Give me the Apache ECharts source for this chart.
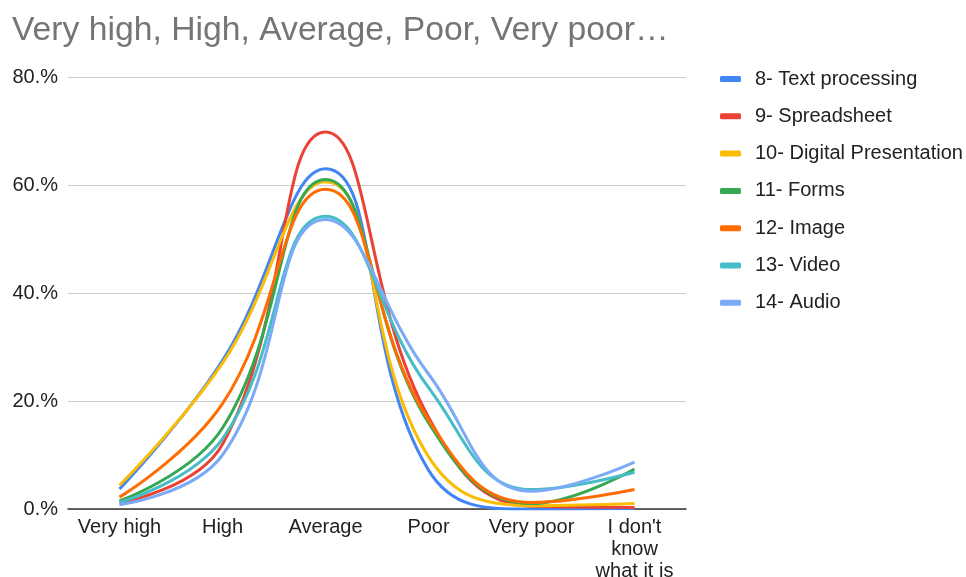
<!DOCTYPE html>
<html>
<head>
<meta charset="utf-8">
<style>
  html, body { margin: 0; padding: 0; background: #ffffff; }
  #chart { width: 966px; height: 577px; }
</style>
<script src="https://cdn.jsdelivr.net/npm/echarts@6/dist/echarts.min.js"></script>
</head>
<body>
<div id="chart"></div>
<script>
// Rating categories along the x axis
const categories = ['Very high', 'High', 'Average', 'Poor', 'Very poor', "I don't\nknow\nwhat it is"];

// Share of answers (%) per skill
const textProcessing = [3.7, 27.5, 63.0, 7.2, 0.0, 0.1];
const spreadsheet    = [1.1, 12.0, 69.8, 17.0, 0.5, 0.3];
const presentation   = [4.4, 27.0, 60.6, 9.7, 0.6, 1.0];
const forms          = [1.5, 15.0, 61.0, 16.0, 1.0, 7.4];
const image          = [2.2, 19.5, 59.2, 16.5, 1.2, 3.6];
const video          = [1.2, 13.0, 54.2, 22.5, 3.6, 6.8];
const audio          = [0.8, 10.0, 53.6, 25.0, 3.3, 8.7];

const seriesNames = [
  '8- Text processing', '9- Spreadsheet', '10- Digital Presentation',
  '11- Forms', '12- Image', '13- Video', '14- Audio'
];
const seriesData = [textProcessing, spreadsheet, presentation, forms, image, video, audio];
const colors = ['#4285F4', '#EA4335', '#FBBC04', '#34A853', '#FF6D01', '#46BDC6', '#7BAAF7'];

// Y axis runs 0–80 in steps of 20, labelled like "20.%"
const yTicks = [0, 20, 40, 60, 80];

const font = '"Liberation Sans", Arial, sans-serif';

const chart = echarts.init(document.getElementById('chart'));
chart.setOption({
  animation: false,
  color: colors,
  textStyle: { fontFamily: font },
  title: {
    text: 'Very high, High, Average, Poor, Very poor…',
    left: 7,
    top: 9,
    textStyle: { fontFamily: font, fontSize: 33.7, fontWeight: 'normal', color: '#757575' }
  },
  legend: {
    orient: 'vertical',
    left: 715,
    top: 64,
    itemWidth: 21,
    itemHeight: 6,
    itemGap: 17.3,
    icon: 'roundRect',
    textStyle: { fontFamily: font, fontSize: 20, color: '#222222', lineHeight: 20, padding: [0, 0, 0, 9] },
    data: seriesNames
  },
  grid: { left: 68, right: 280, top: 77, bottom: 68, containLabel: false, outerBoundsMode: 'none' },
  xAxis: {
    type: 'category',
    data: categories,
    boundaryGap: true,
    axisLine: { lineStyle: { color: '#333333', width: 1.5 } },
    axisTick: { show: false },
    axisLabel: { fontFamily: font, fontSize: 20, color: '#222222', lineHeight: 22, margin: 7, interval: 0 }
  },
  yAxis: {
    type: 'value',
    min: yTicks[0],
    max: yTicks[yTicks.length - 1],
    interval: yTicks[1] - yTicks[0],
    axisLine: { show: false },
    axisTick: { show: false },
    splitLine: { lineStyle: { color: '#cccccc', width: 1 } },
    axisLabel: {
      fontFamily: font, fontSize: 20, color: '#222222', margin: 10,
      formatter: v => v + '.%'
    }
  },
  series: seriesNames.map((name, i) => ({
    name: name,
    type: 'line',
    data: seriesData[i],
    smooth: 0.45,
    symbol: 'none',
    clip: true,
    lineStyle: { width: 3, color: colors[i] },
    itemStyle: { color: colors[i] }
  }))
});
</script>
</body>
</html>
